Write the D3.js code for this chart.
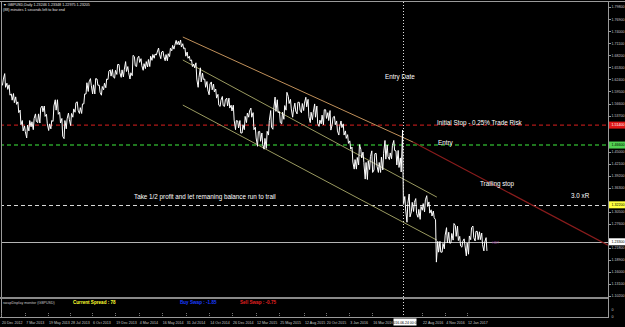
<!DOCTYPE html>
<html>
<head>
<meta charset="utf-8">
<script src="https://cdn.jsdelivr.net/npm/d3@7"></script>
<style>
html, body { margin: 0; padding: 0; background: #000; }
svg { display: block; font-family: "Liberation Sans", Arial, sans-serif; }
</style>
</head>
<body>
<svg id="chart"></svg>
<script>
var firstWeek = "2012-12-17";
var weekHigh = [
  1.6310, 1.6250, 1.6380,
  // 2013
  1.6150, 1.6110, 1.5890, 1.5900, 1.5820, 1.5700, 1.5500, 1.5250, 1.5120, 1.5140, 1.5250, 1.5220,
  1.5300, 1.5410, 1.5410, 1.5550, 1.5600, 1.5600, 1.5400, 1.5170, 1.5250, 1.5600, 1.5750, 1.5750,
  1.5450, 1.5300, 1.5250, 1.5290, 1.5430, 1.5420, 1.5530, 1.5680, 1.5700, 1.5560, 1.5650, 1.5890,
  1.6160, 1.6180, 1.6260, 1.6110, 1.6260, 1.6250, 1.6100, 1.6070, 1.6150, 1.6250, 1.6440, 1.6470,
  1.6480, 1.6460, 1.6600, 1.6600,
  // 2014
  1.6470, 1.6470, 1.6670, 1.6550, 1.6400, 1.6820, 1.6790, 1.6750, 1.6800, 1.6740, 1.6620, 1.6670,
  1.6720, 1.6800, 1.6840, 1.6850, 1.6900, 1.6997, 1.6900, 1.6920, 1.6840, 1.6860, 1.6990, 1.7060,
  1.7060, 1.7180, 1.7160, 1.7190, 1.7100, 1.7000, 1.6900, 1.6800, 1.6710, 1.6610, 1.6640, 1.6290,
  1.6520, 1.6390, 1.6250, 1.6190, 1.6130, 1.6180, 1.6130, 1.6010, 1.5880, 1.5740, 1.5830, 1.5750,
  1.5790, 1.5790, 1.5620, 1.5620,
  // 2015
  1.5250, 1.5240, 1.5250, 1.5150, 1.5350, 1.5430, 1.5480, 1.5550, 1.5440, 1.5090, 1.4980, 1.4990,
  1.4950, 1.4820, 1.4990, 1.5250, 1.5490, 1.5520, 1.5815, 1.5750, 1.5460, 1.5450, 1.5610, 1.5930,
  1.5830, 1.5760, 1.5510, 1.5670, 1.5690, 1.5690, 1.5660, 1.5670, 1.5810, 1.5760, 1.5450, 1.5450,
  1.5650, 1.5600, 1.5260, 1.5380, 1.5510, 1.5510, 1.5440, 1.5490, 1.5330, 1.5350, 1.5240, 1.5100,
  1.5240, 1.5170, 1.5000, 1.4910,
  // 2016
  1.4760, 1.4610, 1.4310, 1.4360, 1.4670, 1.4560, 1.4490, 1.4240, 1.4280, 1.4380, 1.4520, 1.4450,
  1.4460, 1.4240, 1.4370, 1.4460, 1.4770, 1.4660, 1.4470, 1.4650, 1.4770, 1.4520, 1.4530, 1.4350,
  1.5020, 1.3420, 1.3250, 1.3480, 1.3280, 1.3280, 1.3370, 1.3110, 1.3180, 1.3250, 1.3340, 1.3440,
  1.3290, 1.3100, 1.3070, 1.2860, 1.2340, 1.2340, 1.2290, 1.2490, 1.2670, 1.2560, 1.2530, 1.2770,
  1.2720, 1.2710, 1.2460, 1.2340,
  // 2017
  1.2400, 1.2300, 1.2470, 1.2670, 1.2710, 1.2580, 1.2580, 1.2570, 1.2540, 1.2320, 1.2430
];
var weekLow = [
  1.6170, 1.6100, 1.6050,
  // 2013
  1.6000, 1.5860, 1.5740, 1.5680, 1.5640, 1.5440, 1.5150, 1.5000, 1.4980, 1.4831, 1.5000, 1.5100,
  1.5030, 1.5230, 1.5200, 1.5190, 1.5460, 1.5350, 1.5170, 1.5010, 1.5050, 1.5230, 1.5500, 1.5400,
  1.5190, 1.4870, 1.4814, 1.5050, 1.5280, 1.5130, 1.5330, 1.5450, 1.5500, 1.5420, 1.5420, 1.5650,
  1.5890, 1.5950, 1.6100, 1.5890, 1.5890, 1.6100, 1.5930, 1.5860, 1.5990, 1.6040, 1.6240, 1.6320,
  1.6300, 1.6270, 1.6360, 1.6400,
  // 2014
  1.6290, 1.6300, 1.6430, 1.6400, 1.6250, 1.6330, 1.6570, 1.6550, 1.6650, 1.6570, 1.6460, 1.6500,
  1.6540, 1.6550, 1.6700, 1.6750, 1.6830, 1.6850, 1.6740, 1.6800, 1.6690, 1.6690, 1.6790, 1.6930,
  1.6970, 1.7080, 1.7070, 1.7020, 1.6980, 1.6800, 1.6750, 1.6690, 1.6550, 1.6520, 1.6250, 1.6050,
  1.6180, 1.6240, 1.6050, 1.5990, 1.5870, 1.5990, 1.5940, 1.5790, 1.5620, 1.5590, 1.5610, 1.5590,
  1.5600, 1.5550, 1.5480, 1.5260,
  // 2015
  1.5030, 1.5070, 1.4950, 1.4950, 1.5030, 1.5200, 1.5330, 1.5330, 1.5030, 1.4830, 1.4630, 1.4750,
  1.4670, 1.4560, 1.4580, 1.4900, 1.5090, 1.5040, 1.5470, 1.5440, 1.5200, 1.5170, 1.5280, 1.5500,
  1.5660, 1.5530, 1.5330, 1.5480, 1.5410, 1.5500, 1.5440, 1.5490, 1.5580, 1.5340, 1.5200, 1.5270,
  1.5330, 1.5180, 1.5110, 1.5170, 1.5150, 1.5300, 1.5250, 1.5020, 1.5160, 1.5150, 1.5000, 1.4900,
  1.5080, 1.4900, 1.4820, 1.4700,
  // 2016
  1.4560, 1.4250, 1.4080, 1.4080, 1.4180, 1.4350, 1.4240, 1.3840, 1.3830, 1.4070, 1.4000, 1.4060,
  1.4150, 1.4000, 1.4000, 1.4060, 1.4320, 1.4380, 1.4310, 1.4330, 1.4530, 1.4180, 1.4120, 1.4010,
  1.3230, 1.3120, 1.2800, 1.2930, 1.3050, 1.3060, 1.3010, 1.2920, 1.2870, 1.3090, 1.3050, 1.3180,
  1.3020, 1.2950, 1.2910, 1.1840, 1.2080, 1.2080, 1.2080, 1.2160, 1.2300, 1.2300, 1.2300, 1.2370,
  1.2460, 1.2360, 1.2230, 1.2200,
  // 2017
  1.2250, 1.1990, 1.2030, 1.2380, 1.2430, 1.2350, 1.2380, 1.2380, 1.2260, 1.2110, 1.2110
];

// time axis labels
var dateTickDays = ["2012-12-20", "2013-03-07", "2013-05-19", "2013-07-28", "2013-10-06", "2013-12-19",
  "2014-03-04", "2014-05-16", "2014-07-31", "2014-10-14", "2014-12-26", "2015-03-12", "2015-05-25",
  "2015-08-12", "2015-10-20", "2016-01-03", "2016-03-16", "2016-08-22", "2016-11-04", "2017-01-12"];
var dateTickText = ["20 Dec 2012", "7 Mar 2013", "19 May 2013", "28 Jul 2013", "6 Oct 2013", "19 Dec 2013",
  "4 Mar 2014", "16 May 2014", "31 Jul 2014", "14 Oct 2014", "26 Dec 2014", "12 Mar 2015", "25 May 2015",
  "12 Aug 2015", "20 Oct 2015", "3 Jan 2016", "16 Mar 2016", "22 Aug 2016", "4 Nov 2016", "12 Jan 2017"];
var entryDay = "2016-06-24";
var entryDayText = "2016.06.24 00:00";

// price axis labels
var priceTicks = [1.7980, 1.7690, 1.7400, 1.7110, 1.6820, 1.6530, 1.6240, 1.5950, 1.5660, 1.5370,
  1.5080, 1.4790, 1.4500, 1.4210, 1.3920, 1.3630, 1.3340, 1.3050, 1.2760, 1.2470, 1.2180, 1.1890,
  1.1600, 1.1310, 1.1020];

// horizontal levels: stop, entry, 3R target, bid
var levelPrice = [1.5140, 1.4660, 1.3220, 1.2330];
var levelColor = ["#b01818", "#2a9e2a", "#d8d8d8", "#b4b4b4"];
var levelWidth = [1.4, 1.4, 1, 1];
var levelDash = ["4,3", "4,3", "4,3", null];
var levelBox = ["#e01818", "#52d052", "#ffff40", "#ffffff"];
var levelBoxText = ["#ffffff", "#000000", "#000000", "#000000"];

// trend lines: [start day, start price, end day, end price]
var trendLines = [
  ["2014-07-22", 1.7262, "2016-07-24", 1.4732],
  ["2016-07-24", 1.4732, "2018-04-06", 1.2250],
  ["2014-07-22", 1.6708, "2016-10-08", 1.3406],
  ["2014-07-22", 1.5623, "2016-10-08", 1.2370]
];
var trendColor = ["#c0905a", "#8a1c1c", "#9a9a60", "#9a9a60"];
var trendWidth = [1, 1.2, 1, 1];

var W = 625, H = 327;
var axisX = 608, mainTop = 2, mainBottom = 297, subBottom = 317;

var svg = d3.select("#chart").attr("width", W).attr("height", H);
svg.append("rect").attr("width", W).attr("height", H).attr("fill", "#000");

var parse = d3.utcParse("%Y-%m-%d");
var x = d3.scaleUtc()
  .domain([parse("2012-12-20"), parse("2017-01-12")])
  .range([1, 467]);
var y = d3.scaleLinear()
  .domain([1.1000, 1.8105])
  .range([mainBottom, mainTop]);

svg.append("clipPath").attr("id", "main")
  .append("rect").attr("x", 1).attr("y", mainTop).attr("width", axisX - 1).attr("height", mainBottom - mainTop);

var plot = svg.append("g").attr("clip-path", "url(#main)");

// horizontal levels
levelPrice.forEach(function(p, i) {
  var yy = levelWidth[i] > 1 ? y(p) : Math.round(y(p)) + 0.5;
  plot.append("line")
    .attr("x1", 0).attr("x2", axisX)
    .attr("y1", yy).attr("y2", yy)
    .attr("stroke", levelColor[i])
    .attr("stroke-width", levelWidth[i])
    .attr("stroke-dasharray", levelDash[i]);
});

// trend lines
trendLines.forEach(function(t, i) {
  plot.append("line")
    .attr("x1", x(parse(t[0]))).attr("y1", y(t[1]))
    .attr("x2", x(parse(t[2]))).attr("y2", y(t[3]))
    .attr("stroke", trendColor[i])
    .attr("stroke-width", trendWidth[i]);
});

// price zigzag: each week goes high->low or low->high depending on where the next week is
var start = parse(firstWeek);
var pts = [];
weekHigh.forEach(function(h, i) {
  var l = weekLow[i];
  var d = d3.utcWeek.offset(start, i);
  var nextMid = i < weekHigh.length - 1 ? (weekHigh[i + 1] + weekLow[i + 1]) / 2 : (h + l) / 2;
  var up = nextMid > (h + l) / 2;
  pts.push([d3.utcHour.offset(d, 20), up ? l : h]);
  pts.push([d3.utcHour.offset(d, 84), up ? h : l]);
});
var line = d3.line()
  .x(function(d) { return x(d[0]); })
  .y(function(d) { return y(d[1]); });
plot.append("path")
  .attr("d", line(pts))
  .attr("fill", "none")
  .attr("stroke", "#ffffff")
  .attr("stroke-width", 1);

// entry date vertical
var ex = Math.round(x(parse(entryDay))) - 0.5;
svg.append("line")
  .attr("x1", ex).attr("x2", ex).attr("y1", mainTop).attr("y2", subBottom)
  .attr("stroke", "#e0e0e0").attr("stroke-width", 1).attr("stroke-dasharray", "1,2");

// annotations
var notes = [
  ["Entry Date", 385, 79],
  ["Initial Stop - 0.25% Trade Risk", 437, 125],
  ["Entry", 438, 145],
  ["Trailing stop", 480, 186],
  ["3.0 xR", 571, 198],
  ["Take 1/2 profit and let remaning balance run to trail", 134, 199]
];
svg.selectAll("text.note").data(notes).enter().append("text")
  .attr("class", "note")
  .attr("x", function(d) { return d[1]; })
  .attr("y", function(d) { return d[2]; })
  .attr("fill", "#ffffff")
  .attr("font-size", "6.3px")
  .text(function(d) { return d[0]; });

svg.append("text").attr("x", 492).attr("y", 244).attr("fill", "#9a4a9a")
  .attr("font-size", "3.6px").text("HBT");

// frame
svg.append("line").attr("x1", 0).attr("x2", W).attr("y1", 1.5).attr("y2", 1.5).attr("stroke", "#9a9a9a");
svg.append("line").attr("x1", 1.5).attr("x2", 1.5).attr("y1", 1).attr("y2", subBottom).attr("stroke", "#9a9a9a");
svg.append("line").attr("x1", axisX + 0.5).attr("x2", axisX + 0.5).attr("y1", 1).attr("y2", subBottom + 1).attr("stroke", "#9a9a9a");
svg.append("rect").attr("x", 0).attr("y", mainBottom).attr("width", axisX).attr("height", 2).attr("fill", "#8a8a8a");
svg.append("line").attr("x1", 0).attr("x2", axisX).attr("y1", subBottom + 0.5).attr("y2", subBottom + 0.5).attr("stroke", "#9a9a9a");

// price axis
var ticks = priceTicks.filter(function(p) {
  return levelPrice.every(function(l) { return Math.abs(y(p) - y(l)) > 6; });
});
var pa = svg.append("g");
pa.selectAll("line").data(ticks).enter().append("line")
  .attr("x1", axisX).attr("x2", axisX + 3)
  .attr("y1", function(d) { return Math.round(y(d)) + 0.5; })
  .attr("y2", function(d) { return Math.round(y(d)) + 0.5; })
  .attr("stroke", "#9a9a9a");
pa.selectAll("text").data(ticks).enter().append("text")
  .attr("x", axisX + 3.5)
  .attr("y", function(d) { return y(d) + 1.3; })
  .attr("fill", "#c8c8c8")
  .attr("font-size", "3.6px")
  .text(function(d) { return d3.format(".5f")(d); });

// level boxes on the axis
levelPrice.forEach(function(p, i) {
  var yy = y(p);
  svg.append("rect").attr("x", axisX + 1).attr("y", yy - 3.5).attr("width", 16).attr("height", 7)
    .attr("fill", levelBox[i]);
  svg.append("text").attr("x", axisX + 3.5).attr("y", yy + 1.3)
    .attr("fill", levelBoxText[i]).attr("font-size", "3.6px")
    .text(d3.format(".5f")(p));
});

// sub window axis labels
svg.append("text").attr("x", axisX + 3.5).attr("y", 311).attr("fill", "#c8c8c8").attr("font-size", "3.6px").text("0");
svg.append("text").attr("x", axisX + 3.5).attr("y", 318).attr("fill", "#c8c8c8").attr("font-size", "3.6px").text("0");

// time axis
var ta = svg.append("g");
ta.selectAll("line").data(dateTickDays).enter().append("line")
  .attr("x1", function(d) { return Math.round(x(parse(d))) + 0.5; })
  .attr("x2", function(d) { return Math.round(x(parse(d))) + 0.5; })
  .attr("y1", subBottom - 4).attr("y2", subBottom)
  .attr("stroke", "#7a7a7a").attr("stroke-dasharray", "1,1");
ta.selectAll("text").data(dateTickDays).enter().append("text")
  .attr("x", function(d) { return x(parse(d)) + 1; })
  .attr("y", 323.5)
  .attr("fill", "#c8c8c8")
  .attr("font-size", "3.6px")
  .text(function(d, i) { return dateTickText[i]; });
svg.append("rect").attr("x", ex - 10).attr("y", 318.5).attr("width", 23).attr("height", 7).attr("fill", "#ffffff");
svg.append("text").attr("x", ex + 1.5).attr("y", 323.5).attr("text-anchor", "middle")
  .attr("fill", "#000").attr("font-size", "3.5px").text(entryDayText);

// header text
svg.append("text").attr("x", 3).attr("y", 5.5).attr("fill", "#e0e0e0").attr("font-size", "3.7px")
  .text("\u25BC GBPUSD,Daily  1.23246 1.23348 1.22975 1.23205");
svg.append("text").attr("x", 3).attr("y", 10.5).attr("fill", "#e0e0e0").attr("font-size", "3.7px")
  .text("(88) minutes 1 seconds left to bar end");

// sub window texts
svg.append("text").attr("x", 3).attr("y", 303.5).attr("fill", "#c8c8c8").attr("font-size", "3.6px")
  .text("swapDisplay monitor (GBPUSD)");
svg.append("text").attr("x", 73).attr("y", 304).attr("fill", "#ffff30").attr("font-size", "4.6px")
  .attr("font-weight", "bold").text("Current Spread :   78");
svg.append("text").attr("x", 180).attr("y", 304).attr("fill", "#1a3cff").attr("font-size", "4.6px")
  .attr("font-weight", "bold").text("Buy Swap : -1.85");
svg.append("text").attr("x", 240).attr("y", 304).attr("fill", "#e02020").attr("font-size", "4.6px")
  .attr("font-weight", "bold").text("Sell Swap : -0.75");
</script>
</body>
</html>
